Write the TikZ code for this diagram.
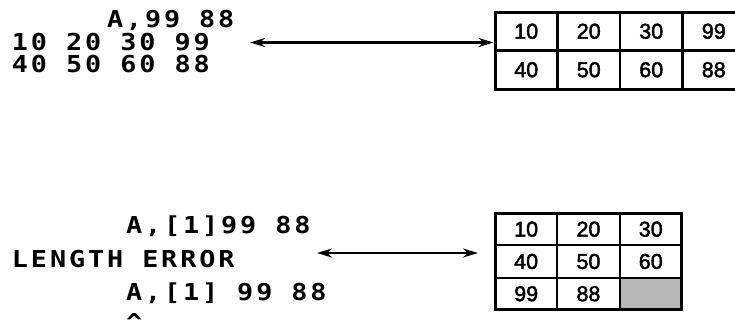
\documentclass[tikz,border=0pt]{standalone}
\usepackage{fontspec}
\newfontfamily\dotfont[FakeStretch=1.15, LetterSpace=12.4]{DejaVu Sans Mono}
\newfontfamily\cellfont[FakeBold=2]{Liberation Sans}
\usetikzlibrary{arrows.meta,positioning,fit}

\begin{document}
\begin{tikzpicture}[x=1pt, y=-1pt, >={Stealth[length=15pt,width=9pt]},
    every node/.style={inner sep=0pt, outer sep=0pt},
    apl/.style={anchor=base west, font=\dotfont\bfseries\fontsize{23.3}{28}\selectfont},
    topcell/.style={draw, line width=2.2pt, minimum width=62.5pt, minimum height=38.5pt,
      font=\cellfont\fontsize{21.5}{24}\selectfont},
    botcell/.style={topcell, minimum width=62.3pt, minimum height=32.3pt},
    frame/.style={draw, line width=3pt},
    dbl/.style={<->, line width=2.4pt}
    ]
\useasboundingbox (0,0) rectangle (735,327);

% session, first try
\node[apl] (q1) at (107,27) {A,99 88};
\node[apl] (r1) at (12,50)  {10 20 30 99};
\node[apl] (r2) at (12,72)  {40 50 60 88};

% session, second try
\node[apl] (q2)    at (126,233) {A,[1]99 88};
\node[apl] (err)   at (12,267)  {LENGTH ERROR};
\node[apl] (q3)    at (126,300) {A,[1] 99 88};
\node[apl, text depth=0pt] (caret) at (126,330) {\textasciicircum};

% 2x4 table
\node[topcell] (a11) at (526.25,31.25) {10};
\node[topcell, right=0pt of a11] (a12) {20};
\node[topcell, right=0pt of a12] (a13) {30};
\node[topcell, right=0pt of a13] (a14) {99};
\node[topcell, below=0pt of a11] (a21) {40};
\node[topcell, right=0pt of a21] (a22) {50};
\node[topcell, right=0pt of a22] (a23) {60};
\node[topcell, right=0pt of a23] (a24) {88};
\node[frame, fit=(a11)(a24)] (atab) {};

% 3x3 table
\node[botcell] (b11) at (526.15,229.15) {10};
\node[botcell, right=0pt of b11] (b12) {20};
\node[botcell, right=0pt of b12] (b13) {30};
\node[botcell, below=0pt of b11] (b21) {40};
\node[botcell, right=0pt of b21] (b22) {50};
\node[botcell, right=0pt of b22] (b23) {60};
\node[botcell, below=0pt of b21] (b31) {99};
\node[botcell, right=0pt of b31] (b32) {88};
\node[botcell, right=0pt of b32, fill=black!28] (b33) {};
\node[frame, fit=(b11)(b33)] (btab) {};

% arrows
\coordinate (ua) at (250,42.5);
\coordinate (la) at (317,253);
\draw[dbl, shorten >=1.5pt] (ua) -- (ua -| atab.west);
\draw[dbl, shorten >=17pt] (la) -- (la -| btab.west);
\end{tikzpicture}
\end{document}
